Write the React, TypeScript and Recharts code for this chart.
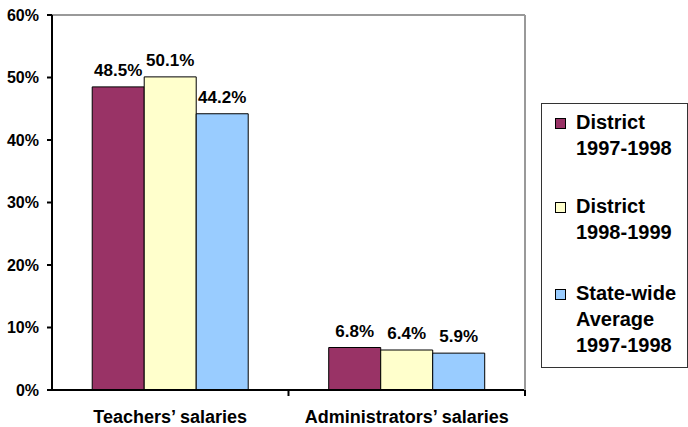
import { BarChart, Bar, XAxis, YAxis, LabelList } from 'recharts';

const categories = ['Teachers’ salaries', 'Administrators’ salaries'];
const district9798 = [48.5, 6.8];
const district9899 = [50.1, 6.4];
const statewide9798 = [44.2, 5.9];
const yTicks = [0, 10, 20, 30, 40, 50, 60];
const seriesNames = ['District 1997-1998', 'District 1998-1999', 'State-wide Average 1997-1998'];

const legendLines = [
  ['District', '1997-1998'],
  ['District', '1998-1999'],
  ['State-wide', 'Average', '1997-1998'],
];
const legendGaps = [32, 35, 0];
const colors = ['#993366', '#FFFFCC', '#99CCFF'];

const chartData = categories.map((name, i) => ({
  name,
  d1: district9798[i],
  d2: district9899[i],
  sw: statewide9798[i],
}));

const FONT = '"Liberation Sans", Arial, sans-serif';

function LegendBox() {
  return (
    <div
      style={{
        position: 'absolute',
        left: 541,
        top: 103,
        width: 147,
        height: 265,
        border: '1px solid #333',
        background: '#fff',
        padding: '5px 0 0 13px',
        boxSizing: 'border-box',
        fontFamily: FONT,
        fontWeight: 700,
        fontSize: 20,
        lineHeight: '26px',
        color: '#000',
      }}
    >
      {legendLines.map((lines, i) => (
        <div key={seriesNames[i]} style={{ display: 'flex', marginBottom: legendGaps[i] }}>
          <div
            style={{
              width: 9,
              height: 9,
              background: colors[i],
              border: '1px solid #000',
              marginTop: 9,
              marginRight: 10,
              flexShrink: 0,
            }}
          />
          <div style={{ whiteSpace: 'nowrap' }}>
            {lines.map((l) => (
              <div key={l}>{l}</div>
            ))}
          </div>
        </div>
      ))}
    </div>
  );
}

// category label plus a tick mark at the right edge of each band
function CategoryTick(props: any) {
  const { x, y, width, payload } = props;
  const half = width / categories.length / 2;
  return (
    <g>
      <line x1={x + half} y1={y} x2={x + half} y2={y + 6} stroke="#000" strokeWidth={2} />
      <text
        x={x}
        y={y + 33}
        textAnchor="middle"
        fontFamily={FONT}
        fontWeight={700}
        fontSize={18}
        fill="#000"
      >
        {payload.value}
      </text>
    </g>
  );
}

const fmt = (v: any) => `${v}%`;
const labelStyle = { fontFamily: FONT, fontWeight: 700, fontSize: 17, fill: '#000' };

export default function App() {
  return (
    <div style={{ position: 'absolute', left: 0, top: 0, width: 688, height: 427, background: '#fff', overflow: 'hidden' }}>
      <BarChart
        width={688}
        height={427}
        data={chartData}
        margin={{ top: 14, right: 162, bottom: 0, left: 0 }}
        barCategoryGap="17%"
        barGap={0}
      >
        <XAxis
          xAxisId="top"
          orientation="top"
          dataKey="name"
          height={1}
          tick={false}
          tickLine={false}
          axisLine={{ stroke: '#999', strokeWidth: 2 }}
        />
        <XAxis
          dataKey="name"
          height={37}
          axisLine={{ stroke: '#000', strokeWidth: 2 }}
          tickLine={false}
          tickSize={0}
          tickMargin={0}
          tick={<CategoryTick />}
          interval={0}
        />
        <YAxis
          width={52}
          domain={[0, 60]}
          ticks={yTicks}
          tickFormatter={fmt}
          axisLine={{ stroke: '#000', strokeWidth: 2 }}
          tickLine={{ stroke: '#000', strokeWidth: 2 }}
          tickSize={5}
          tickMargin={8}
          tick={{ fontFamily: FONT, fontWeight: 700, fontSize: 16, fill: '#000' }}
        />
        <YAxis
          yAxisId="right"
          orientation="right"
          width={1}
          domain={[0, 60]}
          tick={false}
          tickLine={false}
          axisLine={{ stroke: '#999', strokeWidth: 2 }}
        />
        <Bar dataKey="d1" name={seriesNames[0]} fill={colors[0]} stroke="#000" strokeWidth={1} isAnimationActive={false}>
          <LabelList dataKey="d1" position="top" offset={11} formatter={fmt} style={labelStyle} />
        </Bar>
        <Bar dataKey="d2" name={seriesNames[1]} fill={colors[1]} stroke="#000" strokeWidth={1} isAnimationActive={false}>
          <LabelList dataKey="d2" position="top" offset={11} formatter={fmt} style={labelStyle} />
        </Bar>
        <Bar dataKey="sw" name={seriesNames[2]} fill={colors[2]} stroke="#000" strokeWidth={1} isAnimationActive={false}>
          <LabelList dataKey="sw" position="top" offset={11} formatter={fmt} style={labelStyle} />
        </Bar>
      </BarChart>
      <LegendBox />
    </div>
  );
}
